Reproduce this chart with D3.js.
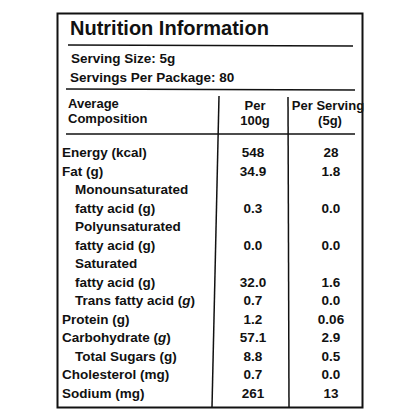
<!DOCTYPE html>
<html><head><meta charset="utf-8">
<script src="https://cdn.jsdelivr.net/npm/d3@7"></script>
<style>body{margin:0;background:#fff}text{font-family:"Liberation Sans",Arial,sans-serif;font-weight:bold;fill:#111}</style>
</head><body>
<script>
// nutrient rows, one per printed line
var labels = ["Energy (kcal)", "Fat (g)", "Monounsaturated", "fatty acid (g)", "Polyunsaturated",
  "fatty acid (g)", "Saturated", "fatty acid (g)", "Trans fatty acid (g)", "Protein (g)",
  "Carbohydrate (g)", "Total Sugars (g)", "Cholesterol (mg)", "Sodium (mg)"];
var indent = [0, 0, 1, 1, 1, 1, 1, 1, 1, 0, 0, 1, 0, 0];
var italicG = [0, 0, 0, 0, 0, 0, 0, 0, 1, 0, 1, 0, 0, 0];
var per100 = ["548", "34.9", "", "0.3", "", "0.0", "", "32.0", "0.7", "1.2", "57.1", "8.8", "0.7", "261"];
var perServing = ["28", "1.8", "", "0.0", "", "0.0", "", "1.6", "0.0", "0.06", "2.9", "0.5", "0.0", "13"];

var width = 420, height = 420;
var svg = d3.select("body").append("svg").attr("width", width).attr("height", height);

// outer box
svg.append("rect").attr("x", 57.5).attr("y", 13.5).attr("width", 305).attr("height", 394)
  .attr("fill", "none").attr("stroke", "#111").attr("stroke-width", 2);

svg.append("text").attr("x", 70).attr("y", 35).attr("font-size", 20).text("Nutrition Information");
svg.append("line").attr("x1", 68).attr("x2", 353).attr("y1", 45).attr("y2", 46).attr("stroke", "#111").attr("stroke-width", 1.5);
svg.append("text").attr("x", 71).attr("y", 63).attr("font-size", 13.5).text("Serving  Size: 5g");
svg.append("text").attr("x", 70).attr("y", 82).attr("font-size", 13.5).text("Servings Per Package: 80");
svg.append("line").attr("x1", 66).attr("x2", 355).attr("y1", 89).attr("y2", 90).attr("stroke", "#111").attr("stroke-width", 1.5);

// column dividers
svg.append("line").attr("x1", 219).attr("x2", 212).attr("y1", 96).attr("y2", 407).attr("stroke", "#111").attr("stroke-width", 1.5);
svg.append("line").attr("x1", 288).attr("x2", 289).attr("y1", 97).attr("y2", 407).attr("stroke", "#111").attr("stroke-width", 1.5);

// header
var hdr = svg.append("g").attr("font-size", 13);
hdr.append("text").attr("x", 68).attr("y", 108).text("Average");
hdr.append("text").attr("x", 68).attr("y", 123).text("Composition");
hdr.append("text").attr("x", 255).attr("y", 110).attr("text-anchor", "middle").text("Per");
hdr.append("text").attr("x", 255).attr("y", 125).attr("text-anchor", "middle").text("100g");
hdr.append("text").attr("x", 328).attr("y", 110).attr("text-anchor", "middle").text("Per Serving");
hdr.append("text").attr("x", 330).attr("y", 125).attr("text-anchor", "middle").text("(5g)");
svg.append("line").attr("x1", 66).attr("x2", 355).attr("y1", 134).attr("y2", 134).attr("stroke", "#111").attr("stroke-width", 1.5);

var y = d3.scalePoint().domain(d3.range(labels.length)).range([157, 398]);

var rows = svg.selectAll(".row").data(labels).enter().append("g")
  .attr("class", "row").attr("font-size", 13.5)
  .attr("transform", function(d, i){ return "translate(0," + y(i) + ")"; });
rows.append("text").attr("x", function(d, i){ return indent[i] ? 75 : 62; })
  .each(function(d, i){
    var t = d3.select(this);
    if (italicG[i]) {
      var base = d.replace(/g\)$/, "");
      t.append("tspan").text(base);
      t.append("tspan").attr("font-style", "italic").text("g");
      t.append("tspan").text(")");
    } else {
      t.text(d);
    }
  });
rows.append("text").attr("x", 253).attr("text-anchor", "middle").text(function(d, i){ return per100[i]; });
rows.append("text").attr("x", 331).attr("text-anchor", "middle").text(function(d, i){ return perServing[i]; });
</script>
</body></html>
